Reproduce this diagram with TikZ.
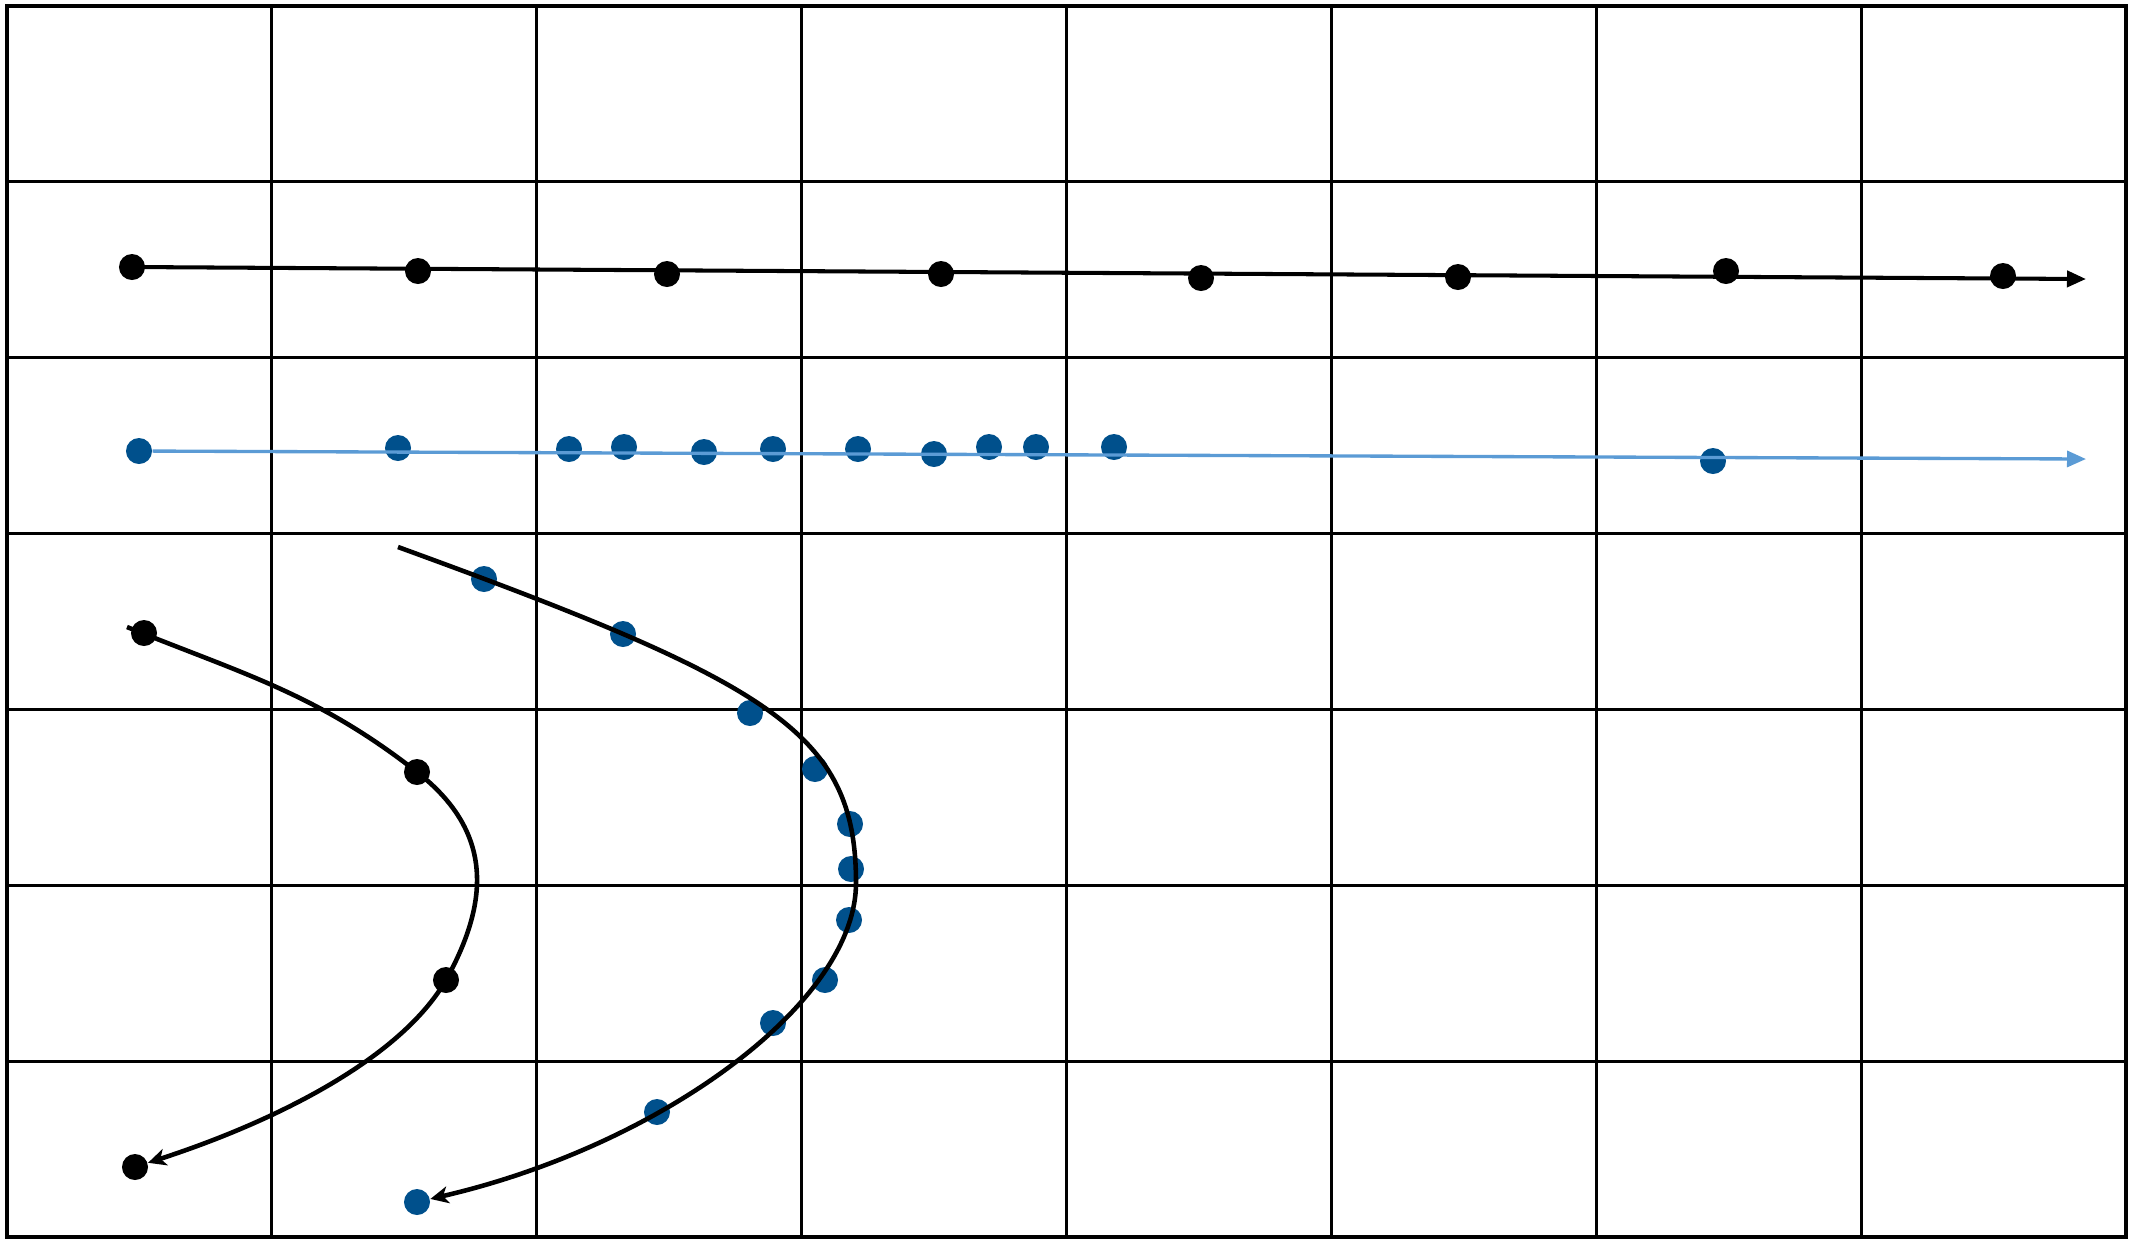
\documentclass[tikz,border=0pt]{standalone}
\usepackage{xcolor}
\usepackage{tikz}
\usetikzlibrary{arrows.meta}
\definecolor{DotBlue}{HTML}{00508C}
\definecolor{LineBlue}{HTML}{5B9BD5}
\begin{document}
\begin{tikzpicture}[x=0.01cm,y=-0.01cm,
  gridline/.style={line width=0.9pt,line cap=rect,color=black},
  dot/.style={circle,fill=black,inner sep=0pt,minimum size=0.26cm},
  bdot/.style={dot,fill=DotBlue},
  arr/.style={-{Triangle[length=1.9mm,width=1.6mm]},line width=1.15pt},
  barr/.style={arr,color=LineBlue,line width=0.95pt},
  curve/.style={-{Stealth[length=1.8mm,width=1.7mm,inset=0.5mm]},line width=1.3pt}
]
\useasboundingbox (0,0) rectangle (2136,1238);
\foreach \i in {0,...,8} \draw[gridline] (7+\i*264.875,6) -- (7+\i*264.875,1237);
\foreach \j in {0,...,7} \draw[gridline] (7,6+\j*175.857) -- (2126,6+\j*175.857);
% black row
\node[dot] (k1) at (132,267) {};
\node[dot] (k2) at (418,271) {};
\node[dot] (k3) at (667,274) {};
\node[dot] (k4) at (941,274) {};
\node[dot] (k5) at (1201,278) {};
\node[dot] (k6) at (1458,277) {};
\node[dot] (k7) at (1726,271) {};
\node[dot] (k8) at (2003,276) {};
\coordinate (kend) at (2086,279);
% blue row
\node[bdot] (b1) at (139,451) {};
\node[bdot] (b2) at (398,448) {};
\node[bdot] (b3) at (569,449) {};
\node[bdot] (b4) at (624,447) {};
\node[bdot] (b5) at (704,452) {};
\node[bdot] (b6) at (773,449) {};
\node[bdot] (b7) at (858,449) {};
\node[bdot] (b8) at (934,454) {};
\node[bdot] (b9) at (989,447) {};
\node[bdot] (b10) at (1036,447) {};
\node[bdot] (b11) at (1114,447) {};
\node[bdot] (b12) at (1713,461) {};
\coordinate (bend) at (2086,459);
% black curve
\coordinate (cs) at (127,627);
\node[dot] (c1) at (144,633) {};
\node[dot] (c2) at (417,772) {};
\node[dot] (c3) at (446,980) {};
\node[dot] (c4) at (135,1167) {};
% blue curve
\coordinate (bs) at (398,547);
\coordinate (bm) at (856,883);
\node[bdot] (d1) at (484,579) {};
\node[bdot] (d2) at (623,634) {};
\node[bdot] (d3) at (750,713) {};
\node[bdot] (d4) at (815,769) {};
\node[bdot] (d5) at (850,824) {};
\node[bdot] (d6) at (851,869) {};
\node[bdot] (d7) at (849,920) {};
\node[bdot] (d8) at (825,980) {};
\node[bdot] (d9) at (773,1023) {};
\node[bdot] (d10) at (657,1112) {};
\node[bdot] (d11) at (417,1202) {};
\draw[arr] (k1.center) -- (kend);
\draw[barr] (b1) -- (bend);
\draw[curve] (cs) .. controls +(22:127) and +(218:127) .. (c2.center)
  .. controls +(38:94) and +(-61:94) .. (c3.center)
  .. controls +(120:90) and +(-18:150) .. (c4);
\draw[curve] (bs) .. controls +(20:400) and +(-90:150) .. (bm)
  .. controls +(90:120) and +(-13:250) .. (d11);
\end{tikzpicture}
\end{document}
